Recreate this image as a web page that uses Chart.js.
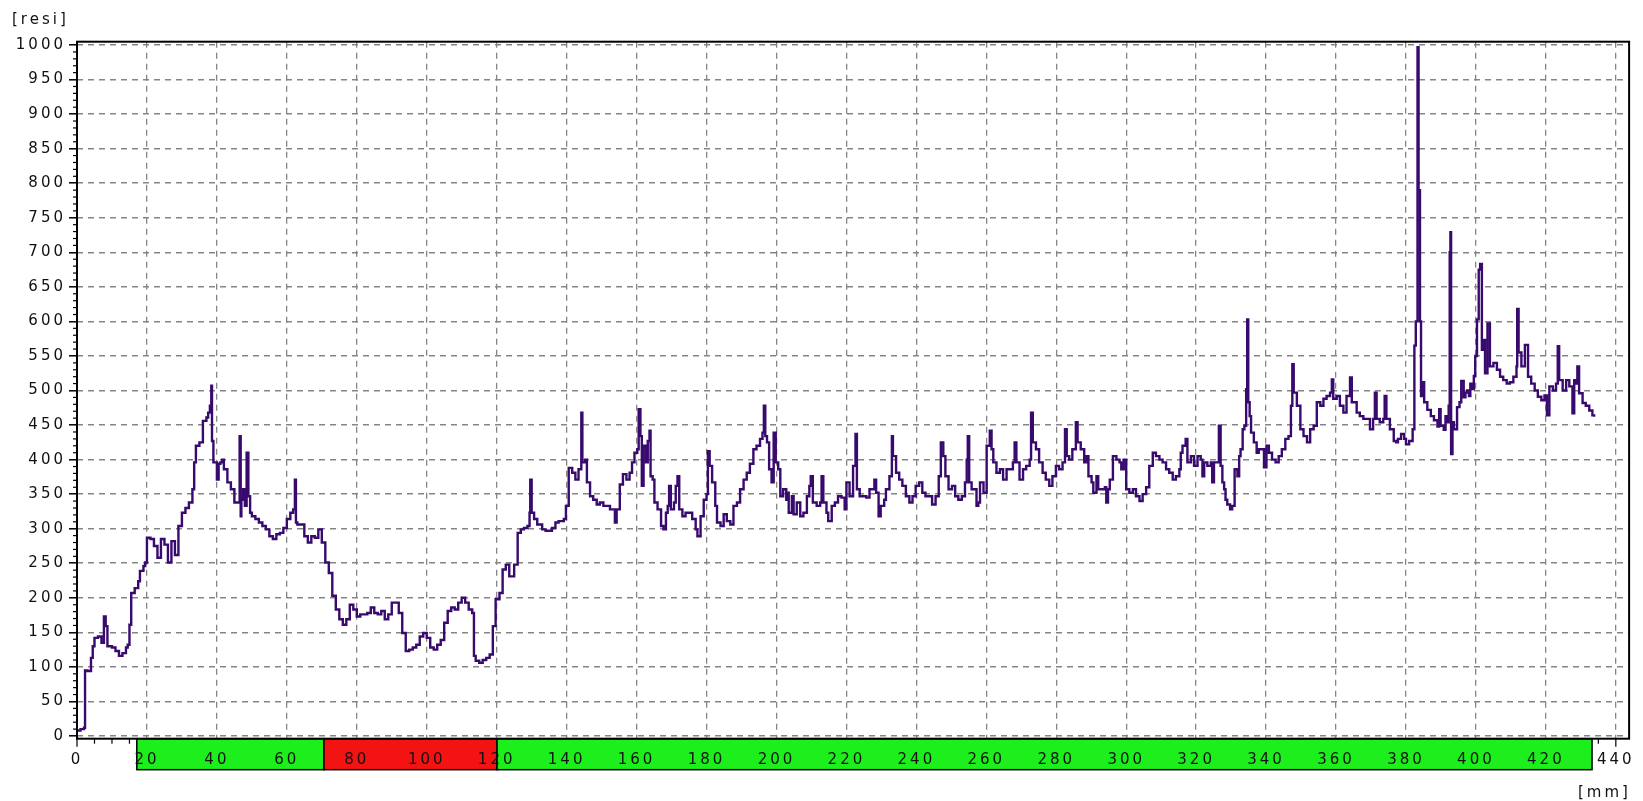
<!DOCTYPE html>
<html>
<head>
<meta charset="utf-8">
<script src="https://cdn.jsdelivr.net/npm/chart.js@4.4.1/dist/chart.umd.min.js"></script>
<style>
  html, body { margin: 0; padding: 0; background: #fff; }
  #wrap { width: 1643px; height: 801px; position: relative; }
</style>
</head>
<body>
<div id="wrap"><canvas id="resiChart"></canvas></div>
<script>
// drilling depth [mm] and resistance [resi]
const depthMm = [
  0,1,2,2.3,3,4,4.5,5,6,7,7.7,8.2,8.7,10,11,12,13,14,14.5,15,15.5,16.5,17.5,18,19,19.5,
  20,21,22,23,24,25,26,27,28,29,30,31,32,33,33.5,34,35,36,37,37.5,38,38.4,38.6,39,
  40,40.5,41,41.5,42,43,44,45,46,46.5,46.8,47,47.5,48,48.5,49,49.5,
  50,51,52,53,54,55,56,57,58,59,60,61,61.8,62.3,62.6,63,64,65,66,67,68,69,
  70,71,72,73,74,75,76,77,78,79,80,81,82,83,84,85,86,87,88,89,
  90,91,92,93,94,95,96,97,98,99,100,101,102,103,104,105,106,107,108,109,
  110,111,112,113,113.5,114,115,116,117,118,118.9,119.7,120.8,121.7,
  122.6,123.6,124.5,125,126,126.9,127.8,128.8,129.4,129.6,130,130.7,131.6,133,134,135,135.8,136.8,137.7,139.2,139.8,
  140.6,141.6,142.5,143.4,144.2,144.5,145.3,145.8,146.7,147.6,148.6,149.5,150.5,151.4,152.4,153.8,154.3,155.2,156.1,157.1,158,158.7,159.4,
  160.2,160.6,161.1,161.5,162,162.7,163.2,163.7,164,164.6,165.1,166,167,167.7,168.4,168.9,169.3,169.8,170.7,171.2,171.7,172.2,173.1,174,175,175.9,176.9,177.4,178.3,179.2,
  180,180.4,180.9,181.6,182.5,183,184,184.9,185.8,186.8,187.7,188.7,189.6,190.6,191.5,192.4,193.4,194.3,195.3,196,196.4,196.8,197.3,197.9,198.6,199.2,199.8,
  200.5,201.1,201.9,202.8,203,203.5,204.4,204.9,205.8,206.8,207.7,208.7,209.4,209.8,210.4,211.5,212.5,212.9,213.4,214.3,214.8,215.8,216.7,217.6,218.6,219.5,
  220,220.9,221.9,222.6,223,223.8,224.7,225.7,226.6,228,228.5,229.2,229.8,230.8,231.3,232.3,233,233.3,234.2,235.1,236,237,238,238.9,239.8,
  240.8,241.7,242.6,243.6,244.5,245.5,246.4,247,247.7,248.3,249.2,250.2,251.1,252,253,253.9,254.4,254.7,255.1,255.8,256.8,257.2,257.7,258.2,259.2,
  260.1,261,261.5,262,262.9,263.9,264.8,265.8,266.7,267.6,268.1,268.6,269.5,270.5,271.4,272.4,272.8,273.3,274.2,275.1,276.1,277,278,278.9,279.9,
  280.8,281.8,282.5,283,283.7,284.6,285.6,286.1,287,288,288.7,289.2,290.1,290.6,291.5,292,293,293.9,294.3,294.8,295.3,296.2,297.2,298.1,298.6,299.3,
  300,300.9,301.9,302.8,303.8,304.7,305.7,306.6,307.6,308.5,309.5,310.4,311.4,312.3,313.3,314.2,315.2,315.6,316.1,317,317.5,318.5,319.4,
  320.4,321.3,321.8,322.3,323.2,324.2,324.6,325.1,326.1,326.5,327,327.5,328,328.4,328.9,329.7,330.3,331,331.8,332.3,332.7,333.3,333.8,334.3,334.6,334.9,335.3,335.7,336.5,337.3,337.9,338.9,339.4,
  340.1,340.8,341.7,342.7,343.6,344.5,345.5,346.4,347.1,347.5,347.9,348.8,349.8,350.7,351.7,352.6,353.6,354.5,355.5,356.4,357.3,358.3,358.8,359.2,
  360.2,361.1,362.1,363,364,364.5,365.9,366.8,367.8,368.7,369.7,370.6,371.1,371.6,372.5,373.5,373.9,374.4,375.4,376.5,377.2,377.7,378.6,379.5,
  380,380.9,381.9,382.4,382.8,383.3,383.6,384,384.3,384.8,385.2,386.1,387.1,388,389,389.5,389.9,390.8,391.3,391.8,392.2,392.5,392.7,392.9,393.3,393.7,394.6,395.3,395.8,396.5,397,397.5,398,398.4,399,399.4,399.8,
  400.3,400.8,401.2,401.7,402.1,402.6,403.3,404,405,406,406.9,407.8,408.8,409.7,410.7,411.6,411.8,412.2,413,414,414.9,415.8,416.8,417.7,418.7,419.6,
  420.3,421,422,422.9,423.4,423.8,424.8,425.8,426.7,427.6,428.1,428.6,429,429.5,430.5,431.4,432.4,433.3,433.8
];
const resi = [
  8,10,12,95,94,113,130,142,144,135,173,159,130,128,123,116,120,128,132,161,207,214,224,239,246,251,
  287,285,275,258,285,277,251,282,262,304,323,330,338,357,396,420,425,456,461,468,478,507,427,396,
  371,394,396,400,386,367,357,338,338,434,318,342,357,333,410,347,323,
  318,314,309,304,299,289,285,292,294,301,314,323,328,371,309,306,306,289,280,289,287,299,
  280,251,236,203,183,169,161,169,190,183,173,176,176,178,186,178,176,181,169,176,
  193,193,178,149,123,125,128,132,144,149,142,128,125,132,139,164,181,186,183,193,
  200,193,183,178,116,109,106,110,113,118,159,198,207,241,
  248,231,231,248,294,299,301,304,323,371,323,314,306,299,297,297,301,309,311,314,333,
  388,381,371,386,468,396,400,367,347,342,335,338,333,333,328,309,328,364,379,371,381,396,410,
  415,473,434,362,420,396,427,442,376,371,338,328,304,299,323,333,362,328,338,362,376,328,318,323,323,314,299,289,318,342,
  350,412,391,367,333,309,304,321,311,306,333,338,357,371,381,394,415,420,430,439,478,434,425,386,367,439,396,
  386,347,357,342,352,323,347,321,338,318,323,347,362,376,338,333,338,376,338,323,311,333,338,347,345,328,
  367,347,391,437,357,347,347,345,357,371,352,318,333,342,357,376,434,405,381,371,362,347,338,347,362,
  367,352,347,347,335,347,376,425,405,376,357,362,347,342,347,367,400,434,367,357,357,333,338,367,352,
  420,442,415,396,381,386,371,386,386,396,425,396,371,386,391,400,468,425,415,396,381,371,362,376,391,
  386,396,444,405,400,415,454,425,415,396,405,376,367,352,376,357,357,360,338,357,371,405,400,396,386,400,
  357,352,357,347,340,350,360,391,410,405,400,396,386,381,371,376,386,410,420,430,396,405,391,
  405,400,376,396,391,396,367,396,396,449,391,367,357,342,335,328,333,386,376,405,415,444,449,502,603,483,463,439,425,410,415,415,389,
  420,410,400,396,405,415,430,434,478,538,497,478,444,434,425,444,449,483,478,488,492,497,516,488,
  492,478,468,492,519,483,468,463,459,459,444,459,497,459,454,459,492,459,444,427,425,430,437,430,
  422,427,444,565,600,997,790,600,492,512,483,472,463,457,448,473,449,443,463,454,478,700,729,408,454,444,476,483,514,490,497,500,492,510,502,521,550,
  603,675,683,559,573,525,597,535,540,530,520,515,510,512,520,535,618,555,535,566,520,510,500,491,486,493,
  464,506,500,510,564,515,500,515,506,467,515,510,535,496,482,478,471,464,462
];

const xTickValues = [0, 20, 40, 60, 80, 100, 120, 140, 160, 180, 200, 220, 240, 260, 280, 300, 320, 340, 360, 380, 400, 420, 440];
const yTickValues = [0, 50, 100, 150, 200, 250, 300, 350, 400, 450, 500, 550, 600, 650, 700, 750, 800, 850, 900, 950, 1000];

// assessment band under the depth axis
const zoneFrom = [17.1, 70.6, 120.1];
const zoneTo = [70.6, 120.1, 433.2];
const zoneKind = ['sound', 'decay', 'sound'];

const yUnit = '[resi]';
const xUnit = '[mm]';

const zoneColors = { sound: '#1cef1c', decay: '#f31313' };
const labelFont = { family: 'DejaVu Sans', size: 15 };
const gridGrey = '#858585';

const decorations = {
  id: 'decorations',
  beforeDraw(chart) {
    const { ctx, chartArea, scales: { x } } = chart;
    const top = chartArea.bottom;
    ctx.save();
    ctx.strokeStyle = '#000';
    ctx.lineWidth = 1.2;
    // small depth ticks below the axis, mostly hidden by the band
    for (let v = 0; v <= 440; v += 5) {
      const px = x.getPixelForValue(v);
      ctx.beginPath();
      ctx.moveTo(px, top);
      ctx.lineTo(px, top + (v % 20 === 0 ? 8 : 5));
      ctx.stroke();
    }
    zoneFrom.forEach((from, i) => {
      const x1 = x.getPixelForValue(from);
      const x2 = x.getPixelForValue(zoneTo[i]);
      ctx.fillStyle = zoneColors[zoneKind[i]];
      ctx.fillRect(x1, top, x2 - x1, 31);
      ctx.lineWidth = 1.5;
      ctx.strokeRect(x1, top, x2 - x1, 31);
    });
    ctx.restore();
    // the source font is wide, spread the digits a bit
    ctx.letterSpacing = '3px';
  },
  afterDraw(chart) {
    const { ctx, chartArea: a, scales: { y } } = chart;
    ctx.save();
    ctx.strokeStyle = '#000';
    ctx.lineWidth = 1.2;
    for (let v = 0; v <= 1000; v += 10) {
      if (v % 50 === 0) continue;
      const py = y.getPixelForValue(v);
      ctx.beginPath();
      ctx.moveTo(a.left - 4, py);
      ctx.lineTo(a.left, py);
      ctx.stroke();
    }
    ctx.lineWidth = 2;
    ctx.strokeRect(a.left, a.top, a.right - a.left, a.bottom - a.top);

    ctx.font = '15px "DejaVu Sans"';
    ctx.fillStyle = '#111';
    ctx.textBaseline = 'middle';
    ctx.textAlign = 'left';
    ctx.fillText(yUnit, 12, 20);
    ctx.fillText(xUnit, 1578, 793);
    ctx.restore();
    ctx.letterSpacing = '0px';
  }
};

new Chart(document.getElementById('resiChart'), {
  type: 'line',
  data: {
    datasets: [{
      label: 'resi',
      data: depthMm.map((d, i) => ({ x: d, y: resi[i] })),
      borderColor: '#380a6e',
      borderWidth: 2.4,
      pointRadius: 0,
      stepped: true,
      fill: false
    }]
  },
  options: {
    responsive: true,
    maintainAspectRatio: false,
    animation: false,
    events: [],
    layout: { padding: { top: 41.7, right: 7, bottom: 0, left: 0 } },
    plugins: {
      legend: { display: false },
      tooltip: { enabled: false }
    },
    scales: {
      x: {
        type: 'linear',
        min: 0,
        max: 443.8,
        afterBuildTicks: (scale) => { scale.ticks = xTickValues.map(v => ({ value: v })); },
        afterFit: (scale) => { scale.height = 62.3; },
        ticks: {
          callback: (v) => String(v),
          font: labelFont,
          color: '#111',
          padding: 12.8,
          maxRotation: 0,
          autoSkip: false
        },
        grid: { color: gridGrey, lineWidth: 1.3, drawTicks: false },
        border: { display: false, dash: [6, 5] }
      },
      y: {
        type: 'linear',
        min: -3.9,
        max: 1004.8,
        afterBuildTicks: (scale) => { scale.ticks = yTickValues.map(v => ({ value: v })); },
        afterFit: (scale) => { scale.width = 77; },
        ticks: {
          callback: (v) => String(v),
          font: labelFont,
          color: '#111',
          padding: 3
        },
        grid: { color: gridGrey, lineWidth: 1.6, tickLength: 8, tickColor: '#000', tickWidth: 1.5 },
        border: { display: false, dash: [6, 5] }
      }
    }
  },
  plugins: [decorations]
});
</script>
</body>
</html>
